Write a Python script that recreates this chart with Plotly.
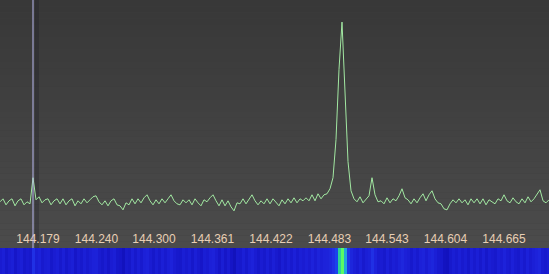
import numpy as np
import plotly.graph_objects as go

# Frequency grid (MHz), one sample every ~3 px of the display
f_start = 144.13937
f_stop = 144.71190
n_pts = 184
freqs = np.linspace(f_start, f_start + (n_pts - 1) * 3 * (f_stop - f_start) / 549, n_pts)

# Spectrum level (dB)
levels = [
    -112, -110.5, -113.5, -111.5, -110.5, -114, -111.5, -110.5, -113.5, -112,
    -113, -100, -111, -109.5, -112.5, -111, -110.5, -113.5, -111.5, -110.5,
    -113, -110.5, -113.5, -111.5, -110.5, -114, -111.5, -113, -110.5, -112.5,
    -111, -109.5, -109, -112, -113.5, -111.5, -114, -111.5, -110.5, -113.5,
    -114, -116, -112.5, -113.5, -110.5, -113, -110.5, -112.5, -110, -108.5,
    -111.5, -113.5, -111, -113, -110.5, -112.5, -110.5, -108.5, -111.5, -113,
    -113.5, -111, -112.5, -111, -113.5, -110.5, -112.5, -114, -111, -112,
    -110, -108.5, -111.5, -114, -111, -114, -111.5, -114.5, -116.5, -112.5,
    -113, -110.5, -113, -110.5, -108.5, -111.5, -113.5, -111.5, -113, -110.5,
    -113, -110.5, -112.5, -114, -111, -113, -110.5, -112.5, -110, -112.5,
    -110.5, -111.5, -110, -111.5, -108.5, -111.5, -108, -110.5, -108.5, -108,
    -105.5, -100, -81, -46, -22.5, -61.5, -92, -106.5, -110.5, -112,
    -109.5, -112.5, -110.5, -109, -100, -108.5, -112, -111.5, -113, -110,
    -112.5, -110.5, -111.5, -109, -105.5, -110, -111, -113, -110.5, -112.5,
    -110, -108, -111.5, -108.5, -106.5, -110.5, -112.5, -113, -115.5, -116,
    -113, -111, -112.5, -110.5, -112.5, -111, -113.5, -110.5, -112.5, -110.5,
    -113, -110.5, -113.5, -111, -112, -113, -110.5, -111.5, -108.5, -111.5,
    -112.5, -110, -112, -113, -110.5, -112.5, -109.5, -112, -110.5, -108.5,
    -106, -111.5, -112.5, -111,
]

tick_vals = [144.179, 144.240, 144.300, 144.361, 144.422, 144.483, 144.543, 144.604, 144.665]
tick_text = ["144.179", "144.240", "144.300", "144.361", "144.422", "144.483", "144.543", "144.604", "144.665"]

marker_freq = 144.1738

W, H = 549, 274
wf_frac = 26 / H

fig = go.Figure()

fig.add_trace(go.Heatmap(
    x=freqs, y=[0], z=[levels], xaxis="x", yaxis="y2",
    zmin=-120, zmax=-20, showscale=False, hoverinfo="skip",
    colorscale=[
        [0.0, "#0c0ca8"], [0.05, "#1414c4"], [0.1, "#1c20d8"],
        [0.2, "#2030e4"], [0.4, "#1a44ec"], [0.6, "#20b0d8"], [0.8, "#30e080"], [1.0, "#60ff60"],
    ],
))

fig.add_trace(go.Scatter(
    x=freqs, y=levels, mode="lines",
    line=dict(color="#a2e8a2", width=1), hoverinfo="skip",
))

shapes = []
nb = 40
for i in range(nb):
    t = i / (nb - 1)
    g = int(round(0x4b + (0x38 - 0x4b) * t))
    shapes.append(dict(
        type="rect", xref="paper", yref="paper", layer="below",
        x0=0, x1=1,
        y0=wf_frac + (1 - wf_frac) * i / nb, y1=wf_frac + (1 - wf_frac) * (i + 1) / nb,
        fillcolor=f"rgb({g},{g},{g})", line=dict(width=0),
    ))
px = (f_stop - f_start) / 549
shapes.append(dict(type="line", xref="x", yref="paper", x0=marker_freq + 4 * px, x1=marker_freq + 4 * px,
                   y0=wf_frac, y1=1, line=dict(color="rgba(20,20,30,0.25)", width=4), layer="below"))
shapes.append(dict(type="line", xref="x", yref="paper", x0=marker_freq, x1=marker_freq,
                   y0=wf_frac, y1=1, line=dict(color="#b8b8f0", width=1)))

fig.update_layout(
    width=W, height=H, margin=dict(l=0, r=0, t=0, b=0),
    paper_bgcolor="#404040", plot_bgcolor="rgba(0,0,0,0)",
    showlegend=False, shapes=shapes,
    xaxis=dict(range=[f_start, f_stop], tickvals=tick_vals, ticktext=tick_text,
               ticklabelposition="inside", ticks="", showgrid=False, zeroline=False,
               showline=False, anchor="y",
               tickfont=dict(family="Liberation Sans, Arial, sans-serif", size=12, color="#e8cfb4")),
    yaxis=dict(domain=[wf_frac, 1], range=[-135, -11.5], visible=False, showgrid=False),
    yaxis2=dict(domain=[0, wf_frac], range=[-0.5, 0.5], visible=False, showgrid=False),
)

fig.write_html("out.html")
